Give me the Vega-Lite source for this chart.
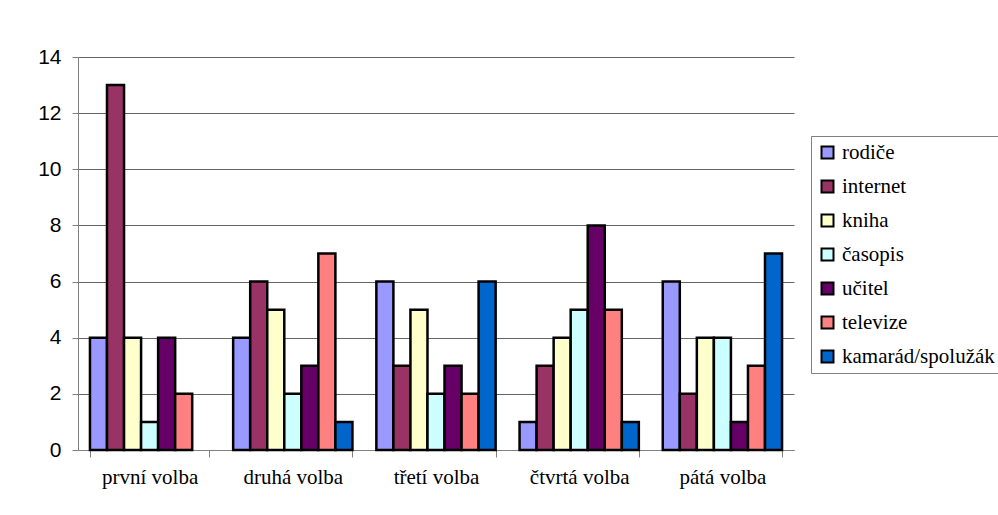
{
  "$schema": "https://vega.github.io/schema/vega-lite/v6.json",
  "width": 716,
  "height": 393,
  "autosize": "none",
  "padding": {"left": 78, "top": 57, "right": 204, "bottom": 65},
  "background": "white",
  "config": {
    "view": {"stroke": null},
    "font": "Liberation Serif",
    "axis": {"labelFont": "Liberation Serif"},
    "legend": {"labelFont": "Liberation Serif"}
  },
  "data": {
    "values": [
      {"volba": "první volba", "zdroj": "rodiče", "pocet": 4},
      {"volba": "první volba", "zdroj": "internet", "pocet": 13},
      {"volba": "první volba", "zdroj": "kniha", "pocet": 4},
      {"volba": "první volba", "zdroj": "časopis", "pocet": 1},
      {"volba": "první volba", "zdroj": "učitel", "pocet": 4},
      {"volba": "první volba", "zdroj": "televize", "pocet": 2},
      {"volba": "druhá volba", "zdroj": "rodiče", "pocet": 4},
      {"volba": "druhá volba", "zdroj": "internet", "pocet": 6},
      {"volba": "druhá volba", "zdroj": "kniha", "pocet": 5},
      {"volba": "druhá volba", "zdroj": "časopis", "pocet": 2},
      {"volba": "druhá volba", "zdroj": "učitel", "pocet": 3},
      {"volba": "druhá volba", "zdroj": "televize", "pocet": 7},
      {"volba": "druhá volba", "zdroj": "kamarád/spolužák", "pocet": 1},
      {"volba": "třetí volba", "zdroj": "rodiče", "pocet": 6},
      {"volba": "třetí volba", "zdroj": "internet", "pocet": 3},
      {"volba": "třetí volba", "zdroj": "kniha", "pocet": 5},
      {"volba": "třetí volba", "zdroj": "časopis", "pocet": 2},
      {"volba": "třetí volba", "zdroj": "učitel", "pocet": 3},
      {"volba": "třetí volba", "zdroj": "televize", "pocet": 2},
      {"volba": "třetí volba", "zdroj": "kamarád/spolužák", "pocet": 6},
      {"volba": "čtvrtá volba", "zdroj": "rodiče", "pocet": 1},
      {"volba": "čtvrtá volba", "zdroj": "internet", "pocet": 3},
      {"volba": "čtvrtá volba", "zdroj": "kniha", "pocet": 4},
      {"volba": "čtvrtá volba", "zdroj": "časopis", "pocet": 5},
      {"volba": "čtvrtá volba", "zdroj": "učitel", "pocet": 8},
      {"volba": "čtvrtá volba", "zdroj": "televize", "pocet": 5},
      {"volba": "čtvrtá volba", "zdroj": "kamarád/spolužák", "pocet": 1},
      {"volba": "pátá volba", "zdroj": "rodiče", "pocet": 6},
      {"volba": "pátá volba", "zdroj": "internet", "pocet": 2},
      {"volba": "pátá volba", "zdroj": "kniha", "pocet": 4},
      {"volba": "pátá volba", "zdroj": "časopis", "pocet": 4},
      {"volba": "pátá volba", "zdroj": "učitel", "pocet": 1},
      {"volba": "pátá volba", "zdroj": "televize", "pocet": 3},
      {"volba": "pátá volba", "zdroj": "kamarád/spolužák", "pocet": 7}
    ]
  },
  "mark": {"type": "bar", "stroke": "#000000", "strokeWidth": 2.5, "strokeOpacity": 1, "fillOpacity": 1},
  "encoding": {
    "x": {
      "field": "volba",
      "type": "nominal",
      "sort": ["první volba", "druhá volba", "třetí volba", "čtvrtá volba", "pátá volba"],
      "scale": {"paddingInner": 0.167, "paddingOuter": 0.0835},
      "axis": {
        "title": null,
        "labelAngle": 0,
        "labelFont": "Liberation Serif",
        "labelFontSize": 21,
        "labelColor": "black",
        "labelPadding": 9,
        "tickBand": "extent",
        "tickSize": 7,
        "tickColor": "#808080",
        "domainColor": "#808080",
        "grid": false
      }
    },
    "xOffset": {
      "field": "zdroj",
      "type": "nominal",
      "scale": {
        "domain": ["rodiče", "internet", "kniha", "časopis", "učitel", "televize", "kamarád/spolužák"],
        "paddingInner": 0,
        "paddingOuter": 0
      }
    },
    "y": {
      "field": "pocet",
      "type": "quantitative",
      "scale": {"domain": [0, 14], "nice": false},
      "axis": {
        "title": null,
        "values": [0, 2, 4, 6, 8, 10, 12, 14],
        "labelFont": "Liberation Sans",
        "labelFontSize": 21,
        "labelColor": "black",
        "labelPadding": 11,
        "tickSize": 6,
        "tickColor": "#808080",
        "domainColor": "#808080",
        "gridColor": "#666666",
        "gridOpacity": 1,
        "gridWidth": 1
      }
    },
    "color": {
      "field": "zdroj",
      "type": "nominal",
      "scale": {
        "domain": ["rodiče", "internet", "kniha", "časopis", "učitel", "televize", "kamarád/spolužák"],
        "range": ["#9999FF", "#993366", "#FFFFCC", "#CCFFFF", "#660066", "#FF8080", "#0066CC"]
      },
      "legend": {
        "title": null,
        "orient": "none",
        "legendX": 733,
        "legendY": 79,
        "labelFont": "Liberation Serif",
        "labelFontSize": 21,
        "labelColor": "black",
        "labelLimit": 300,
        "labelOffset": 4,
        "symbolType": "square",
        "symbolSize": 144,
        "symbolStrokeColor": "black",
        "symbolStrokeWidth": 2,
        "symbolOpacity": 1,
        "rowPadding": 12,
        "padding": 6,
        "strokeColor": "#808080",
        "fillColor": "white"
      }
    }
  }
}
